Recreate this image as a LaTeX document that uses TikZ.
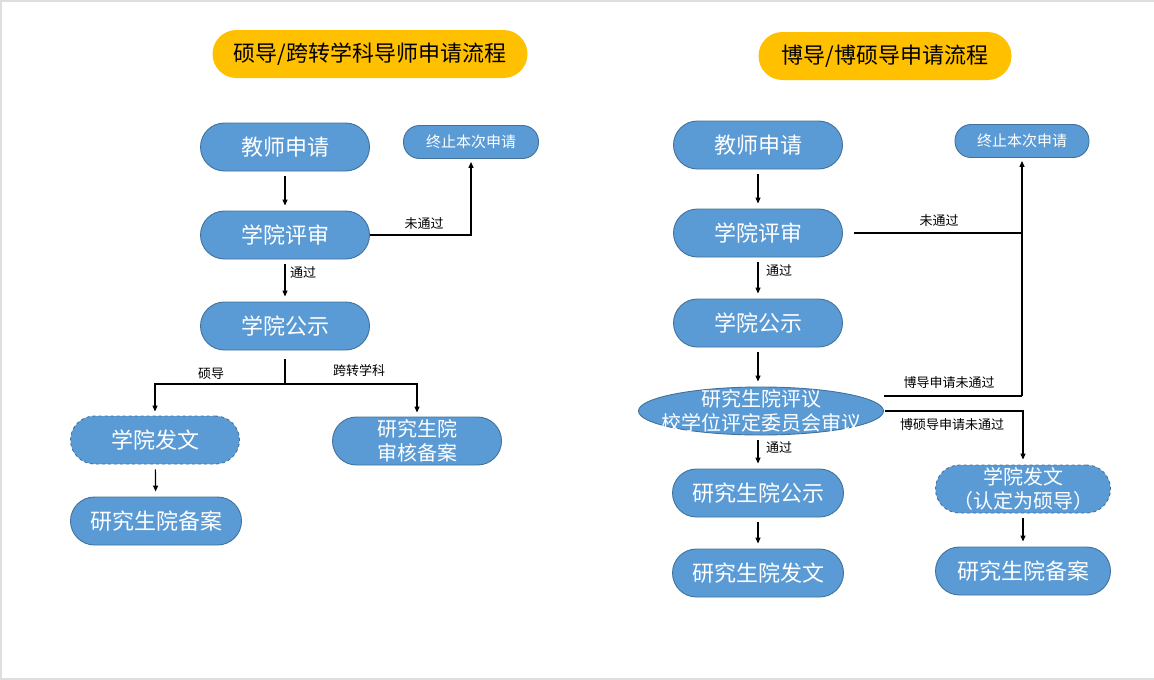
\documentclass[tikz,border=0pt]{standalone}
\usepackage{fontspec}
\setmainfont{Noto Sans CJK SC}
\usepackage{tikz}
\usetikzlibrary{arrows.meta}
\usetikzlibrary{shapes.geometric}
\definecolor{boxblue}{HTML}{5B9BD5}
\definecolor{boxline}{HTML}{41719C}
\definecolor{titleorange}{HTML}{FFC000}

\begin{document}
\begin{tikzpicture}[x=1pt,y=-1pt,
		box/.style={draw=boxline,fill=boxblue,text=white,line width=0.9pt,rectangle,rounded corners=24pt,minimum width=169pt,minimum height=48pt,inner sep=0pt,align=center,font=\fontsize{22}{26}\selectfont},
		twoline/.style={font=\fontsize{20}{24}\selectfont},
		stopbox/.style={box,rounded corners=16pt,minimum width=135pt,minimum height=33pt,font=\fontsize{15}{18}\selectfont},
		titlebox/.style={fill=titleorange,rectangle,rounded corners=24pt,minimum width=315pt,minimum height=48pt,inner sep=0pt,font=\fontsize{22}{26}\selectfont},
		lbl/.style={font=\fontsize{13}{15}\selectfont,inner sep=0pt},
		line/.style={draw=black,line width=1.2pt},
		arr/.style={line,-{Triangle[length=6pt,width=5pt]},shorten <=5pt,shorten >=5pt}]
	\useasboundingbox (0,0) rectangle (1154,680);
	\draw[black!13,line width=2pt] (1,680) -- (1,1) -- (1154,1);
	\draw[black!13,line width=2pt] (0,679) -- (1154,679);
	
	\node[titlebox] (title1) at (370,54) {硕导/跨转学科导师申请流程};
	\node[titlebox,minimum width=253pt] (title2) at (885,56) {博导/博硕导申请流程};
	
	\node[box] (jssq1) at (285,147) {教师申请};
	\node[stopbox] (zz1) at (471,142) {终止本次申请};
	\node[box] (xyps1) at (285,235) {学院评审};
	\node[box] (xygs1) at (285,326) {学院公示};
	\node[box,dashed] (xyfw1) at (155,440) {学院发文};
	\node[box,twoline] (yjsbak) at (417,441) {研究生院\\审核备案};
	\node[box,minimum width=171pt] (yjsba1) at (156,521) {研究生院备案};
	
	\node[box] (jssq2) at (758,145) {教师申请};
	\node[stopbox,minimum width=134pt] (zz2) at (1022,141) {终止本次申请};
	\node[box] (xyps2) at (758,233) {学院评审};
	\node[box] (xygs2) at (758,323) {学院公示};
	\node[box,ellipse,rounded corners=0pt,minimum width=245pt] (yjsps) at (761,411) {};
	\node[twoline,text=white,align=center,inner sep=0pt] (yjspstext) at (yjsps) {研究生院评议\\校学位评定委员会审议};
	\node[box,minimum width=171pt] (yjsgs) at (758,493) {研究生院公示};
	\node[box,minimum width=171pt] (yjsfw) at (758,573) {研究生院发文};
	\node[box,twoline,dashed,minimum width=175pt] (xyfw2) at (1023,489) {学院发文\\（认定为硕导）};
	\node[box,minimum width=175pt] (yjsba2) at (1023,571) {研究生院备案};
	
	\node[lbl] (l1) at (424,224) {未通过};
	\node[lbl] (l2) at (303,273) {通过};
	\node[lbl] (l3) at (211,374) {硕导};
	\node[lbl] (l4) at (359,371) {跨转学科};
	\node[lbl] (r1) at (939,221) {未通过};
	\node[lbl] (r2) at (779,271) {通过};
	\node[lbl] (r3) at (949,383) {博导申请未通过};
	\node[lbl] (r4) at (952,425) {博硕导申请未通过};
	\node[lbl] (r5) at (779,448) {通过};
	
	\coordinate (br1) at (285,384);
	\coordinate (jd2) at (1022,396);
	
	\draw[arr] (jssq1) -- (xyps1);
	\draw[arr] (xyps1) -- (xygs1);
	\draw[arr,shorten <=0pt,shorten >=3pt] (xyps1.east) -| (zz1.south);
	\draw[line,shorten <=9pt] (xygs1.south) -- (br1);
	\draw[arr,shorten <=0pt,shorten >=4pt] (br1) -| (xyfw1.north);
	\draw[arr,shorten <=0pt,shorten >=4pt] (br1) -| (yjsbak.north);
	\draw[arr] (xyfw1) -- (yjsba1);
	
	\draw[arr] (jssq2) -- (xyps2);
	\draw[arr] (xyps2) -- (xygs2);
	\draw[arr] (xygs2) -- (xygs2 |- yjsps.north);
	\draw[arr] (yjsps.south -| yjsgs) -- (yjsgs);
	\draw[arr] (yjsgs) -- (yjsfw);
	\draw[line,shorten <=11pt] (xyps2.east) -- (xyps2.east -| jd2);
	\draw[line] (yjsps.east |- jd2) -- (jd2);
	\draw[arr,shorten <=0pt,shorten >=3pt] (jd2) -- (zz2.south);
	\draw[arr,shorten <=1pt,shorten >=5pt] (yjsps.east) -| (xyfw2.north);
	\draw[arr] (xyfw2) -- (yjsba2);
\end{tikzpicture}
\end{document}
